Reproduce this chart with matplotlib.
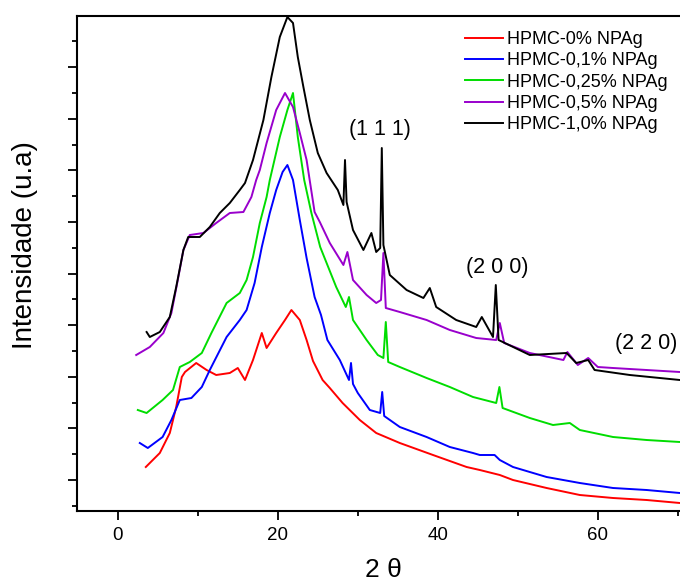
import matplotlib
matplotlib.use("Agg")
import matplotlib.pyplot as plt
from matplotlib.ticker import MultipleLocator

plt.rcParams['font.family'] = ['Liberation Sans', 'DejaVu Sans']

# 2theta (deg) and intensity (arbitrary units)
x_0 = [3.5, 5.25, 6.5, 7.3, 8.0, 8.4, 9.8, 11.1, 12.3, 14.0, 15.0, 15.9, 16.9, 18.0, 18.6,
       19.8, 20.9, 21.7, 22.75, 23.6, 24.4, 25.6, 26.5, 28.1, 30.25, 32.3, 35.25, 39.4,
       43.6, 45.25, 47.75, 49.4, 53.6, 57.75, 61.9, 66.1, 70.25]
y_0 = [13, 27, 47, 73, 103, 108, 117, 110, 105, 107, 112, 100, 120, 147, 132,
       147, 160, 170, 160, 140, 119, 100, 92, 77, 60, 47, 37, 25,
       13, 10, 5, 0, -8, -15, -18, -20, -23]

x_01 = [2.75, 3.75, 5.6, 6.7, 7.75, 9.2, 10.5, 11.5, 13.6, 15.25, 16.1, 17.1, 18.0, 19.0,
        19.8, 20.6, 21.2, 21.9, 22.75, 23.6, 24.6, 25.4, 26.2, 27.75, 28.9, 29.15, 29.4,
        30.0, 31.5, 32.8, 33.05, 33.3, 35.25, 38.6, 41.5, 44.4, 45.25, 47.1, 47.75, 49.4,
        53.6, 57.75, 61.9, 66.1, 70.25]
y_01 = [37, 32, 43, 60, 80, 82, 93, 110, 143, 160, 170, 197, 233, 267,
        290, 308, 315, 300, 260, 222, 183, 165, 140, 120, 100, 117, 96,
        87, 70, 67, 88, 64, 53, 43, 33, 27, 25, 25, 20, 13,
        3, -3, -8, -10, -13]

x_025 = [2.5, 3.6, 5.6, 6.9, 7.75, 9.0, 10.5, 11.7, 13.6, 15.25, 16.1, 16.9, 17.75, 18.6,
         19.0, 20.25, 21.2, 21.9, 22.5, 23.3, 24.2, 25.3, 26.1, 27.3, 28.5, 28.9, 29.4,
         31.1, 32.5, 33.2, 33.5, 33.8, 35.25, 38.6, 41.5, 44.4, 47.3, 47.7, 48.1, 51.5,
         54.4, 56.5, 57.75, 61.9, 66.1, 70.25]
y_025 = [70, 67, 80, 90, 113, 118, 127, 147, 177, 187, 200, 223, 257, 283,
         300, 343, 370, 387, 343, 300, 267, 233, 217, 193, 173, 183, 160,
         140, 125, 122, 158, 118, 113, 102, 93, 83, 77, 93, 72, 62,
         55, 57, 50, 43, 40, 38]

x_05 = [2.3, 4.0, 5.7, 6.7, 7.5, 8.2, 9.0, 10.7, 12.3, 14.0, 15.7, 16.7, 17.3, 17.75,
        18.6, 19.8, 20.9, 21.9, 22.75, 23.6, 24.6, 25.25, 26.5, 28.2, 28.7, 29.4, 31.1,
        32.3, 32.9, 33.2, 33.5, 35.25, 38.6, 41.5, 44.8, 47.3, 47.75, 48.3, 51.5, 55.7,
        56.2, 57.5, 58.8, 60.0, 61.9, 66.1, 70.25]
y_05 = [125, 133, 147, 167, 200, 230, 245, 247, 257, 267, 268, 283, 300, 310,
        337, 370, 387, 373, 347, 320, 268, 258, 237, 215, 228, 200, 185,
        177, 180, 227, 172, 168, 160, 150, 142, 140, 157, 137, 127, 120,
        128, 115, 122, 113, 112, 110, 108]

x_10 = [3.6, 4.0, 5.25, 6.5, 7.3, 8.2, 8.8, 10.25, 11.5, 12.75, 14.0, 15.25, 15.9, 16.9,
        18.2, 19.2, 20.25, 21.2, 21.9, 22.5, 23.2, 24.0, 25.0, 26.1, 27.5, 28.2, 28.4,
        28.6, 29.4, 30.7, 31.7, 32.3, 32.8, 33.0, 33.2, 34.0, 36.1, 38.2, 39.0, 39.8,
        42.3, 44.8, 45.5, 46.9, 47.25, 47.6, 51.5, 56.1, 57.3, 58.8, 59.6, 64.0, 70.25]
y_10 = [148, 143, 148, 163, 193, 230, 243, 243, 253, 267, 277, 290, 297, 320,
        360, 403, 443, 463, 457, 423, 393, 360, 327, 307, 290, 275, 320,
        278, 250, 230, 247, 228, 232, 332, 235, 205, 190, 182, 192, 173,
        160, 153, 163, 143, 195, 140, 125, 127, 117, 120, 110, 105, 100]

series = [
    (x_0, y_0, 'red', 'HPMC-0% NPAg'),
    (x_01, y_01, 'blue', 'HPMC-0,1% NPAg'),
    (x_025, y_025, '#00dd00', 'HPMC-0,25% NPAg'),
    (x_05, y_05, '#9900cc', 'HPMC-0,5% NPAg'),
    (x_10, y_10, 'black', 'HPMC-1,0% NPAg'),
]

peaks = [('(1 1 1)', 32.75, 350, 'center'),
         ('(2 0 0)', 47.4, 212, 'center'),
         ('(2 2 0)', 62.2, 137, 'left')]

fig = plt.figure(figsize=(6.8, 5.85), dpi=100)
ax = fig.add_axes([77 / 680, 74 / 585, 612 / 680, 495 / 585])

for xs, ys, c, lab in series:
    ax.plot(xs, ys, color=c, lw=1.4, label=lab)

for txt, px, py, ha in peaks:
    ax.text(px, py, txt, fontsize=15.5, ha=ha, va='center')

ax.set_xlim(-5.1, 71.4)
ax.set_ylim(-31, 464)
ax.xaxis.set_major_locator(MultipleLocator(20))
ax.xaxis.set_minor_locator(MultipleLocator(10))
ax.yaxis.set_major_locator(MultipleLocator(51.6))
ax.yaxis.set_minor_locator(MultipleLocator(25.8))
ax.set_yticklabels([])
ax.tick_params(which='major', direction='out', length=6.5, width=1.3, labelsize=13.5, pad=5)
ax.tick_params(which='minor', direction='out', length=3.5, width=1.3)
for s in ax.spines.values():
    s.set_linewidth(1.5)

fig.text(383 / 680, 1 - 577 / 585, '2 θ', fontsize=19, ha='center', va='baseline')
fig.text(25 / 680, 1 - 245 / 585, 'Intensidade (u.a)', fontsize=20, rotation=90,
         ha='center', va='center')

ax.legend(loc='upper left', bbox_to_anchor=(465 / 680, 1 - 31 / 585),
          bbox_transform=fig.transFigure, frameon=False, fontsize=13,
          handlelength=2.1, handletextpad=0.25, labelspacing=0.24,
          borderpad=0, borderaxespad=0)

fig.savefig('out.png', dpi=100)
